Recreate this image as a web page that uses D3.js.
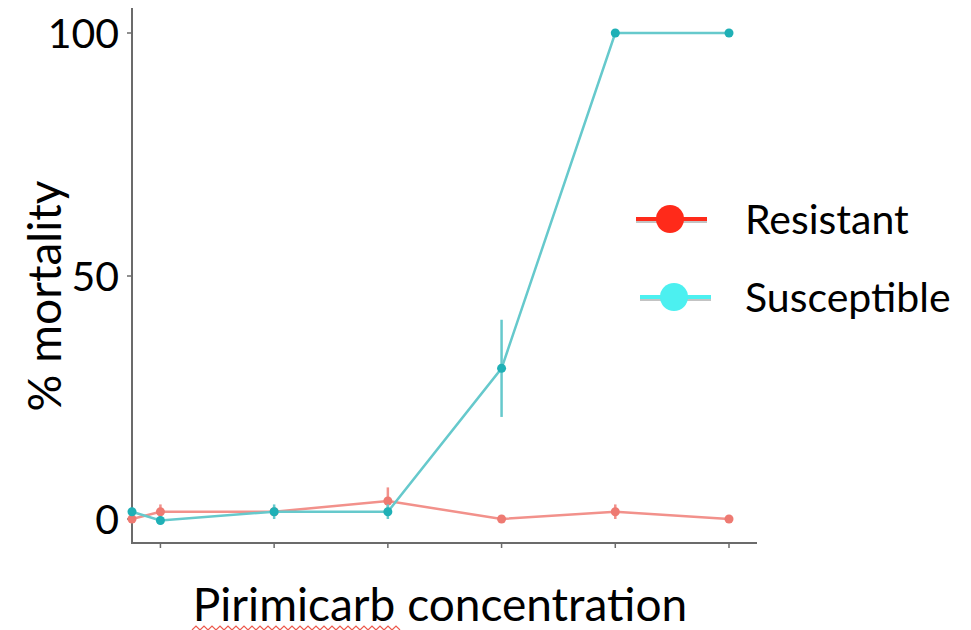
<!DOCTYPE html>
<html>
<head>
<meta charset="utf-8">
<script src="https://cdn.jsdelivr.net/npm/d3@7"></script>
<style>
  body { margin: 0; background: #fff; }
  text { font-family: Lato, "Open Sans", sans-serif; fill: #000; }
</style>
</head>
<body>
<div id="chart"></div>
<script>
// concentration steps (position 0.75 is the control, sitting on the axis)
const doses = [0.75, 1, 2, 3, 4, 5, 6];
const tickDoses = [1, 2, 3, 4, 5, 6];
const resistant = [0, 1.5, 1.5, 3.7, 0, 1.5, 0];
const resistantErr = [0, 1.5, 0.5, 2.8, 0, 1.5, 0];
const susceptible = [1.5, -0.3, 1.5, 1.5, 31, 100, 100];
const susceptibleErr = [0.8, 0.5, 1.5, 1.5, 10, 0, 0];
const yTicks = [0, 50, 100];
const seriesNames = ["Resistant", "Susceptible"];

const width = 971, height = 630;
const svg = d3.select("#chart").append("svg")
  .attr("width", width)
  .attr("height", height);

const x = d3.scaleLinear().domain([0.75, 6]).range([132, 729]);
const y = d3.scaleLinear().domain([0, 100]).range([519, 33]);

// axes
const axisColor = "#6b6b6b";
svg.append("line")
  .attr("x1", 132).attr("x2", 132).attr("y1", 8).attr("y2", 543)
  .attr("stroke", axisColor).attr("stroke-width", 2);
svg.append("line")
  .attr("x1", 131).attr("x2", 757).attr("y1", 543).attr("y2", 543)
  .attr("stroke", axisColor).attr("stroke-width", 2);

svg.append("g").selectAll("line")
  .data(tickDoses)
  .join("line")
  .attr("x1", d => x(d)).attr("x2", d => x(d))
  .attr("y1", 543).attr("y2", 548)
  .attr("stroke", axisColor).attr("stroke-width", 1.5);

svg.append("g").selectAll("line")
  .data(yTicks)
  .join("line")
  .attr("x1", 127).attr("x2", 132)
  .attr("y1", d => y(d)).attr("y2", d => y(d))
  .attr("stroke", axisColor).attr("stroke-width", 1.5);

svg.append("g").selectAll("text")
  .data(yTicks)
  .join("text")
  .attr("x", 119)
  .attr("y", d => y(d))
  .attr("dy", "0.36em")
  .attr("text-anchor", "end")
  .attr("font-size", 41)
  .text(d => d);

svg.append("text")
  .attr("transform", "translate(61,296) rotate(-90)")
  .attr("text-anchor", "middle")
  .attr("font-size", 46)
  .text("% mortality");

svg.append("text")
  .attr("x", 440)
  .attr("y", 621)
  .attr("text-anchor", "middle")
  .attr("font-size", 46)
  .text("Pirimicarb concentration");

// spell-check squiggle under "Pirimicarb"
const squiggle = d3.range(0, 53).map(i => [192 + i * 4, 628 + (i % 2 ? -2 : 2)]);
svg.append("path")
  .attr("d", d3.line()(squiggle))
  .attr("fill", "none")
  .attr("stroke", "#ec5a4e")
  .attr("stroke-width", 1.2);

// series
function drawSeries(vals, errs, lineColor, pointColor) {
  const g = svg.append("g");
  const pts = doses.map((d, i) => ({ x: d, y: vals[i], e: errs[i] }));
  g.append("path")
    .attr("d", d3.line().x(d => x(d.x)).y(d => y(d.y))(pts))
    .attr("fill", "none")
    .attr("stroke", lineColor)
    .attr("stroke-width", 2.5);
  g.selectAll("line.err")
    .data(pts.filter(d => d.e > 0))
    .join("line")
    .attr("class", "err")
    .attr("x1", d => x(d.x)).attr("x2", d => x(d.x))
    .attr("y1", d => y(d.y - d.e)).attr("y2", d => y(d.y + d.e))
    .attr("stroke", lineColor)
    .attr("stroke-width", 2.5);
  g.selectAll("circle")
    .data(pts)
    .join("circle")
    .attr("cx", d => x(d.x))
    .attr("cy", d => y(d.y))
    .attr("r", 4.5)
    .attr("fill", pointColor);
}
drawSeries(resistant, resistantErr, "#f2918b", "#ee7a72");
drawSeries(susceptible, susceptibleErr, "#66c9cc", "#1fb0b6");

// legend
const legendColors = ["#ff2a1a", "#4cf0f0"];
const legend = svg.append("g").selectAll("g")
  .data(seriesNames)
  .join("g")
  .attr("transform", (d, i) => `translate(0,${i === 0 ? 219 : 297})`);
legend.append("line")
  .attr("x1", d => d === "Resistant" ? 636 : 640)
  .attr("x2", d => d === "Resistant" ? 707 : 711)
  .attr("y1", 2).attr("y2", 2)
  .attr("stroke", "#888").attr("stroke-width", 4).attr("opacity", 0.5);
legend.append("line")
  .attr("x1", d => d === "Resistant" ? 636 : 640)
  .attr("x2", d => d === "Resistant" ? 707 : 711)
  .attr("stroke", (d, i) => legendColors[i]).attr("stroke-width", 4);
legend.append("circle")
  .attr("cx", d => d === "Resistant" ? 670 : 674)
  .attr("r", 14)
  .attr("fill", (d, i) => legendColors[i]);
legend.append("text")
  .attr("x", 745)
  .attr("dy", "0.36em")
  .attr("font-size", 41)
  .text(d => d);
</script>
</body>
</html>
